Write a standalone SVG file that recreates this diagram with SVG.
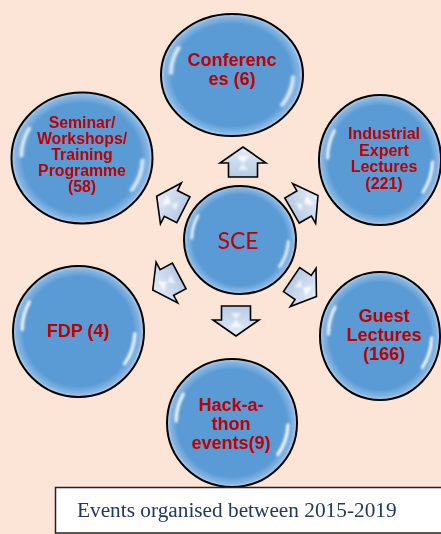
<svg xmlns="http://www.w3.org/2000/svg" xmlns:xlink="http://www.w3.org/1999/xlink" width="441" height="534" viewBox="0 0 441 534">
  <defs>
    <radialGradient id="ballFill" cx="0.5" cy="0.5" r="0.5">
      <stop offset="0" stop-color="#5b9bd5"/>
      <stop offset="0.84" stop-color="#5b9bd5"/>
      <stop offset="0.95" stop-color="#86b6e3"/>
      <stop offset="1" stop-color="#b7d4ef"/>
    </radialGradient>
    <linearGradient id="arrowFill" x1="0" y1="0" x2="0" y2="1">
      <stop offset="0" stop-color="#e4ecf7"/>
      <stop offset="1" stop-color="#b7cae5"/>
    </linearGradient>
    <filter id="soft" x="-30%" y="-30%" width="160%" height="160%">
      <feGaussianBlur stdDeviation="2"/>
    </filter>
    <filter id="soft2" x="-50%" y="-50%" width="200%" height="200%">
      <feGaussianBlur stdDeviation="1"/>
    </filter>
    <g id="gloss" filter="url(#soft)" fill="#ffffff">
      <path d="M -72 -50 A 88 88 0 0 0 -88 -2 A 80 80 0 0 1 -72 -50 Z" opacity="0.95"/>
      <path d="M -75 -45 A 86 86 0 0 0 -86 -3" fill="none" stroke="#ffffff" stroke-width="5" stroke-linecap="round" opacity="0.9"/>
      <path d="M 88 2 A 88 88 0 0 1 70 52 A 80 80 0 0 0 88 2 Z" opacity="0.95"/>
      <path d="M 86 3 A 86 86 0 0 1 70.4 49.3" fill="none" stroke="#ffffff" stroke-width="5" stroke-linecap="round" opacity="0.9"/>
    </g>
    <path id="arrow" d="M0,-15 L23,1 L14.5,1 L14.5,15 L-14.5,15 L-14.5,1 L-23,1 Z"/>
    <g id="spark" filter="url(#soft2)" fill="#ffffff" opacity="0.85">
      <path d="M-6,-6 L6,-6 L0,1 Z"/>
      <path d="M-5,8 L5,8 L0,2 Z" opacity="0.8"/>
    </g>
    <style>
      .ball { fill: url(#ballFill); stroke: #000000; stroke-width: 2; }
      .lbl { font-family: "Liberation Sans", Arial, sans-serif; font-weight: bold; fill: #c00000; text-anchor: middle; }
      .arr { fill: url(#arrowFill); stroke: #000000; stroke-width: 1.6; stroke-linejoin: miter; }
    </style>
  </defs>

  <rect x="0" y="0" width="441" height="534" fill="#fce4d6"/>

  <g id="connectors">
    <g transform="translate(243,162)"><use xlink:href="#arrow" class="arr"/><use xlink:href="#spark"/></g>
    <g transform="translate(236,321) rotate(180)"><use xlink:href="#arrow" class="arr"/><use xlink:href="#spark"/></g>
    <g transform="translate(170,203) rotate(-63)"><use xlink:href="#arrow" class="arr"/><use xlink:href="#spark"/></g>
    <g transform="translate(305,203) rotate(60)"><use xlink:href="#arrow" class="arr"/><use xlink:href="#spark"/></g>
    <g transform="translate(166,283) rotate(-118)"><use xlink:href="#arrow" class="arr"/><use xlink:href="#spark"/></g>
    <g transform="translate(304,288) rotate(124)"><use xlink:href="#arrow" class="arr"/><use xlink:href="#spark"/></g>
  </g>

  <g id="node-sce">
    <ellipse class="ball" cx="240" cy="240" rx="56" ry="54"/>
    <use xlink:href="#gloss" transform="translate(240,240) scale(0.56,0.54)"/>
    <text x="238" y="249" font-family="Lato, 'Open Sans', sans-serif" font-size="23" fill="#c00000" text-anchor="middle">SCE</text>
  </g>

  <g id="node-conferences">
    <ellipse class="ball" cx="232" cy="75" rx="71" ry="61"/>
    <use xlink:href="#gloss" transform="translate(232,75) scale(0.71,0.61)"/>
    <text class="lbl" font-size="18"><tspan x="232" y="66">Conferenc</tspan><tspan x="232" y="85">es (6)</tspan></text>
  </g>

  <g id="node-seminar">
    <ellipse class="ball" cx="82" cy="158" rx="70.5" ry="65.5"/>
    <use xlink:href="#gloss" transform="translate(82,158) scale(0.705,0.655)"/>
    <text class="lbl" font-size="15.8"><tspan x="82" y="128">Seminar/</tspan><tspan x="82" y="144">Workshops/</tspan><tspan x="82" y="160">Training</tspan><tspan x="82" y="176">Programme</tspan><tspan x="82" y="192">(58)</tspan></text>
  </g>

  <g id="node-industrial">
    <ellipse class="ball" cx="380" cy="160" rx="61" ry="65"/>
    <use xlink:href="#gloss" transform="translate(380,160) scale(0.61,0.65)"/>
    <text class="lbl" font-size="16"><tspan x="384" y="139">Industrial</tspan><tspan x="384" y="155.5">Expert</tspan><tspan x="384" y="172">Lectures</tspan><tspan x="384" y="188.5">(221)</tspan></text>
  </g>

  <g id="node-fdp">
    <ellipse class="ball" cx="78.5" cy="331.5" rx="65.5" ry="65.5"/>
    <use xlink:href="#gloss" transform="translate(78.5,331.5) scale(0.655,0.655)"/>
    <text class="lbl" font-size="18" x="78" y="337">FDP (4)</text>
  </g>

  <g id="node-guest">
    <ellipse class="ball" cx="380" cy="336" rx="60" ry="64"/>
    <use xlink:href="#gloss" transform="translate(380,336) scale(0.6,0.64)"/>
    <text class="lbl" font-size="18"><tspan x="384" y="322">Guest</tspan><tspan x="384" y="341">Lectures</tspan><tspan x="384" y="360">(166)</tspan></text>
  </g>

  <g id="node-hackathon">
    <ellipse class="ball" cx="232" cy="423" rx="65" ry="64"/>
    <use xlink:href="#gloss" transform="translate(232,423) scale(0.65,0.64)"/>
    <text class="lbl" font-size="18"><tspan x="231" y="411">Hack-a-</tspan><tspan x="231" y="430">thon</tspan><tspan x="231" y="449">events(9)</tspan></text>
  </g>

  <g id="caption">
    <rect x="55.5" y="487.5" width="400" height="45.5" fill="#ffffff" stroke="#222222" stroke-width="1.5"/>
    <text x="77" y="517" font-family="'Liberation Serif', 'Times New Roman', serif" font-size="21.3" fill="#1f3864">Events organised between 2015-2019</text>
  </g>
</svg>
